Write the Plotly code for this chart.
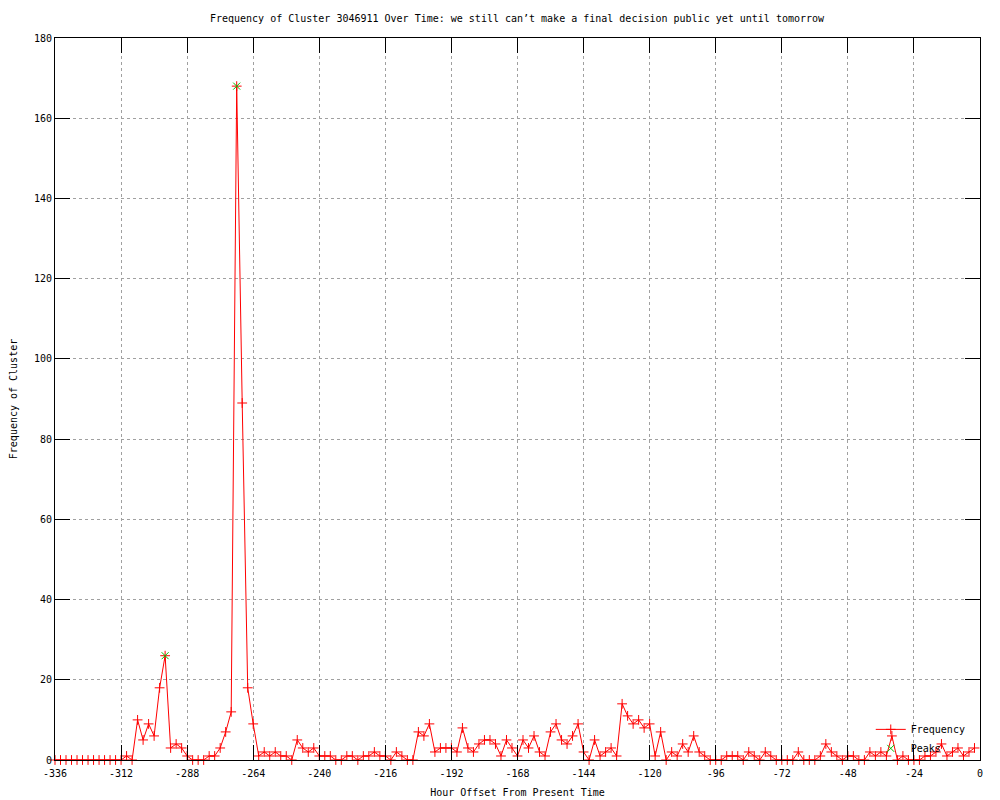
import plotly.graph_objects as go

# Hour offsets (every 2 hours) and frequency values
hours = list(range(-336, 0, 2))
freq = [
    0, 0, 0, 0, 0, 0, 0, 0, 0, 0, 0, 0,          # -336 .. -314
    0, 1, 0, 10, 5, 9, 6, 18, 26, 3, 4, 3,       # -312 .. -290
    1, 0, 0, 0, 1, 1, 3, 7, 12, 168, 89, 18,     # -288 .. -266
    9, 1, 2, 1, 2, 1, 1, 0, 5, 3, 2, 3,          # -264 .. -242
    1, 1, 1, 0, 0, 1, 1, 0, 1, 1, 2, 1,          # -240 .. -218
    1, 0, 2, 1, 0, 0, 7, 6, 9, 2, 3, 3,          # -216 .. -194
    3, 2, 8, 3, 2, 4, 5, 5, 4, 1, 5, 3,          # -192 .. -170
    1, 5, 3, 6, 2, 1, 7, 9, 5, 4, 6, 9,          # -168 .. -146
    2, 0, 5, 1, 2, 3, 1, 14, 11, 9, 10, 8,       # -144 .. -122
    9, 1, 7, 0, 2, 1, 4, 2, 6, 2, 1, 0,          # -120 .. -98
    0, 0, 1, 1, 1, 0, 2, 1, 0, 2, 1, 0,          # -96 .. -74
    0, 0, 0, 2, 0, 0, 0, 1, 4, 2, 1, 0,          # -72 .. -50
    1, 1, 0, 0, 2, 1, 2, 1, 6, 0, 1, 0,          # -48 .. -26
    0, 0, 1, 1, 2, 4, 1, 2, 3, 1, 2, 3,          # -24 .. -2
]
assert len(freq) == len(hours)

peak_hours = [-296, -270]
peak_freq = [26, 168]

x_ticks = list(range(-336, 1, 24))
x_tick_text = [str(v) for v in x_ticks]
y_ticks = list(range(0, 181, 20))
y_tick_text = [str(v) for v in y_ticks]

title_text = "Frequency of Cluster 3046911 Over Time: we still can\u2019t make a final decision public yet until tomorrow"

FONT = "DejaVu Sans Mono"

fig = go.Figure()
fig.add_trace(go.Scatter(
    x=hours, y=freq, name="Frequency", mode="lines+markers",
    line=dict(color="#ff0000", width=1),
    marker=dict(symbol="cross-thin", size=7, line=dict(color="#ff0000", width=1)),
    cliponaxis=False,
))
fig.add_trace(go.Scatter(
    x=peak_hours, y=peak_freq, name="Peaks", mode="markers",
    marker=dict(symbol="x-thin", size=7, line=dict(color="#00c000", width=1)),
    cliponaxis=False,
))

axis_common = dict(
    showline=True, linecolor="black", linewidth=1, mirror="ticks",
    ticks="inside", ticklen=15, tickcolor="black", tickwidth=1,
    showgrid=True, gridcolor="#a0a0a0", gridwidth=1, griddash="3px,3px",
    zeroline=False, tickfont=dict(family=FONT, size=10, color="black"),
    automargin=False,
)

fig.update_xaxes(
    range=[-336, 0], tickvals=x_ticks, ticktext=x_tick_text,
    ticklabelstandoff=4,
    title=dict(text="Hour Offset From Present Time", font=dict(family=FONT, size=10, color="black"), standoff=10),
    **axis_common,
)
fig.update_yaxes(
    range=[0, 180], tickvals=y_ticks, ticktext=y_tick_text,
    title=dict(text="Frequency of Cluster", font=dict(family=FONT, size=10, color="black"), standoff=22),
    **axis_common,
)

fig.update_layout(
    width=1000, height=800,
    margin=dict(l=47, r=28, t=30, b=48),
    paper_bgcolor="white", plot_bgcolor="white",
    title=dict(text=title_text, x=0.509, xanchor="center", y=0.9875, yanchor="middle",
               font=dict(family=FONT, size=10, color="black")),
    font=dict(family=FONT, size=10, color="black"),
    legend=dict(x=0.99, xanchor="right", y=-0.004, yanchor="bottom",
                bgcolor="rgba(0,0,0,0)", font=dict(family=FONT, size=10),
                tracegroupgap=0, itemwidth=30),
    showlegend=True,
)

fig.write_html("out.html")
